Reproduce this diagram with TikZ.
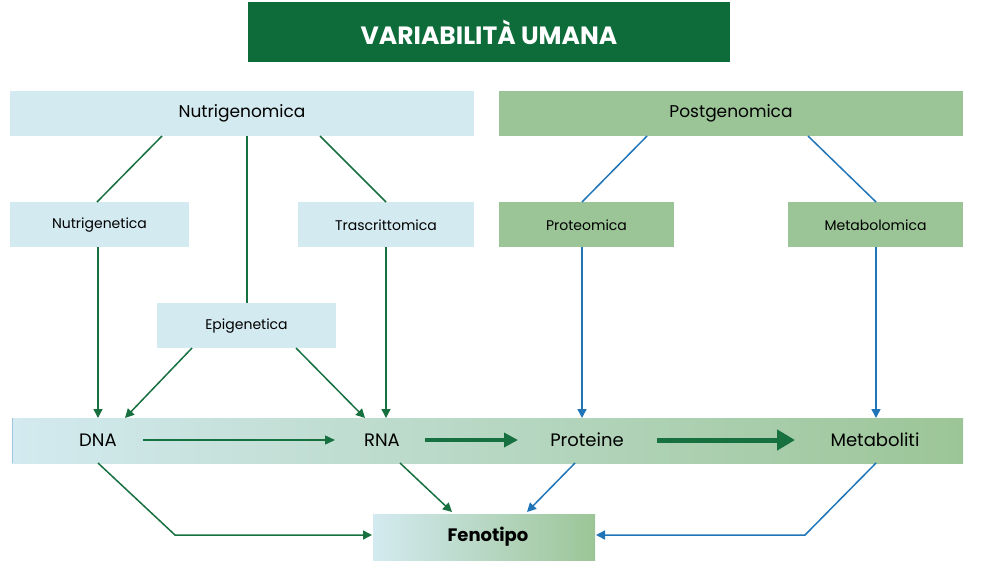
\documentclass[tikz,border=0pt]{standalone}
\usepackage{fontspec}
\setmainfont{Poppins}
\usetikzlibrary{calc,arrows.meta}
\definecolor{dg}{HTML}{0E6B3A}
\definecolor{lb}{HTML}{D3EAF0}
\definecolor{lg}{HTML}{9CC597}
\definecolor{gl}{HTML}{17703F}
\definecolor{bl}{HTML}{1F75B8}
\begin{document}
\begin{tikzpicture}[x=1pt,y=-1pt,
  box/.style={inner sep=0,outer sep=0,font=\fontsize{17}{20}\selectfont},
  sbox/.style={inner sep=0,outer sep=0,font=\fontsize{14}{17}\selectfont},
  gline/.style={draw=gl,line width=1.5pt},
  bline/.style={draw=bl,line width=1.5pt},
  garr/.style={gline,-{Triangle[length=9pt,width=9pt]}},
  barr/.style={bline,-{Triangle[length=9pt,width=9pt]}},
  lbl/.style={inner sep=0,font=\fontsize{18}{21}\selectfont}]
\useasboundingbox (0,0) rectangle (984,560);
\fill[dg] (248,2) rectangle (730,62);
\node[text=white,font=\fontsize{25}{30}\bfseries\selectfont] (title) at (489,32) {VARIABILITÀ UMANA};
\fill[lb] (10,91) rectangle (474,136);
\node[box] (ng) at (242,113) {Nutrigenomica};
\fill[lg] (499,91) rectangle (963,136);
\node[box] (pg) at (731,113) {Postgenomica};
\fill[lb] (10,202) rectangle (189,247);
\node[sbox] (nt) at (99.5,225) {Nutrigenetica};
\fill[lb] (298,202) rectangle (474,247);
\node[sbox] (tr) at (386,225) {Trascrittomica};
\fill[lg] (499,202) rectangle (674,247);
\node[sbox] (pr) at (586.5,225) {Proteomica};
\fill[lg] (788,202) rectangle (963,247);
\node[sbox] (mb) at (875.5,225) {Metabolomica};
\fill[lb] (157,303) rectangle (336,348);
\node[sbox] (ep) at (246.5,326) {Epigenetica};
\shade[left color=lb,right color=lg] (12,418) rectangle (963,463);
\draw[lb!70!bl,line width=1pt] (12,418) -- (12,463);
\node[lbl] (dna) at (98,440) {DNA};
\node[lbl] (rna) at (382,440) {RNA};
\node[lbl] (pro) at (587,440) {Proteine};
\node[lbl] (met) at (875,440) {Metaboliti};
\shade[left color=lb,right color=lg] (373,514) rectangle (595,560);
\node[lbl,font=\fontsize{18}{21}\bfseries\selectfont] (fen) at (488,537) {Fenotipo};
% coordinates
\coordinate (a1) at (162,136); \coordinate (a2) at (97,202);
\coordinate (b1) at (247,136); \coordinate (b2) at (247,303);
\coordinate (c1) at (320,136); \coordinate (c2) at (386,202);
\coordinate (d1) at (647,136); \coordinate (d2) at (582,202);
\coordinate (e1) at (808,136); \coordinate (e2) at (876,202);
\draw[gline] (a1) -- (a2);
\draw[gline] (b1) -- (b2);
\draw[gline] (c1) -- (c2);
\draw[bline] (d1) -- (d2);
\draw[bline] (e1) -- (e2);
\coordinate (t1) at (98,247); \coordinate (t2) at (98,418);
\draw[garr] (t1) -- (t2);
\draw[garr] (192,348) coordinate (ep1) -- (125,418) coordinate (ep2);
\draw[garr] (296,348) coordinate (ep3) -- (365,418) coordinate (ep4);
\draw[garr] (386,247) coordinate (tr1) -- (386,418) coordinate (tr2);
\draw[barr] (582,247) coordinate (pr1) -- (582,418) coordinate (pr2);
\draw[barr] (876,247) coordinate (mb1) -- (876,418) coordinate (mb2);
\draw[draw=gl,line width=1.5pt,-{Triangle[length=10pt,width=9pt]}] (dna.east)++(26,0) coordinate (x1) -- (335,440) coordinate (x2);
\draw[draw=gl,line width=3.5pt,-{Triangle[length=14pt,width=14pt]}] (425,440) coordinate (y1) -- (518,440) coordinate (y2);
\draw[draw=gl,line width=5pt,-{Triangle[length=18pt,width=20pt]}] (657,440) coordinate (z1) -- (795,440) coordinate (z2);
\draw[garr] (98,463) coordinate (f1) -- (175,535) -- (372,535) coordinate (f2);
\draw[garr] (400,463) coordinate (g1) -- (452,512) coordinate (g2);
\draw[barr] (575,463) coordinate (h1) -- (527,512) coordinate (h2);
\draw[barr] (876,463) coordinate (k1) -- (805,535) -- (596,535) coordinate (k2);
\end{tikzpicture}
\end{document}
